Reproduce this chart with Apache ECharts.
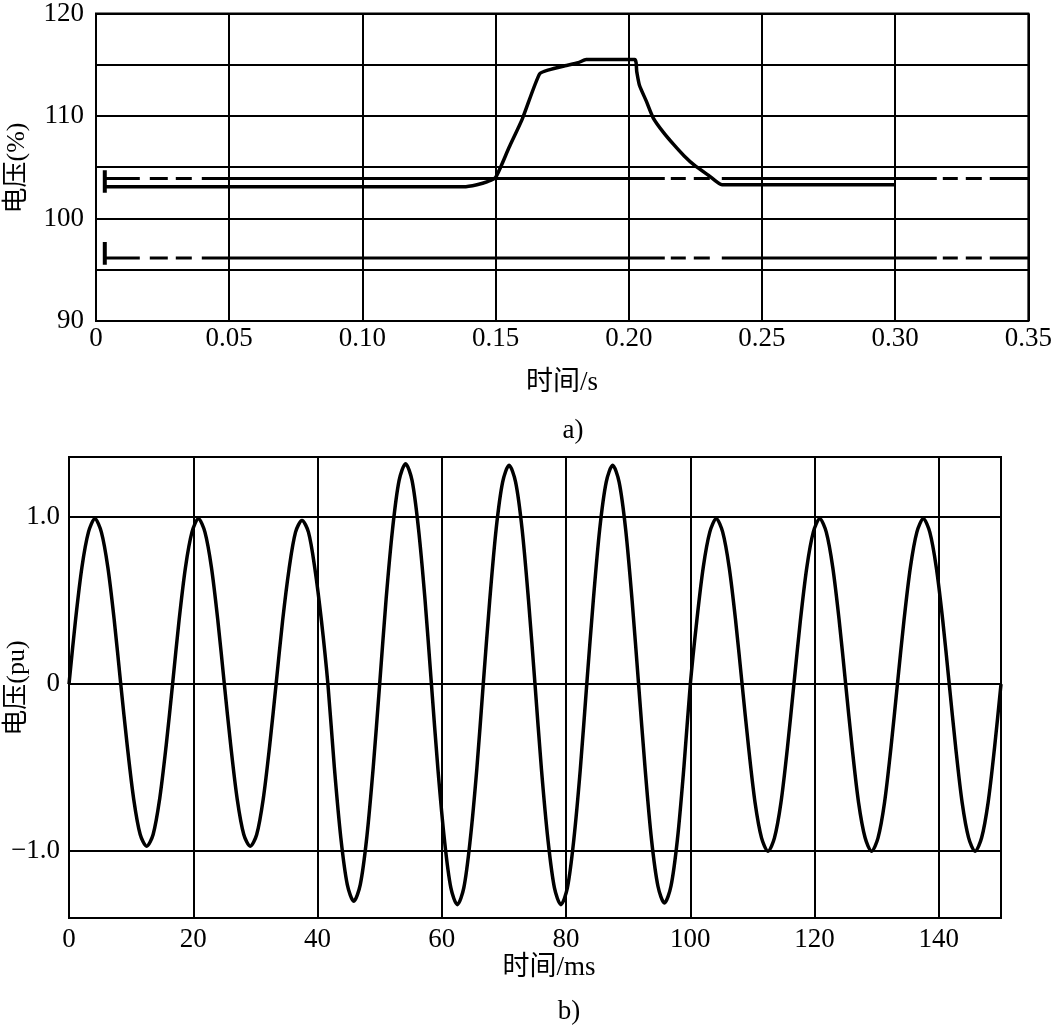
<!DOCTYPE html>
<html>
<head>
<meta charset="utf-8">
<script src="https://cdn.jsdelivr.net/npm/echarts@6/dist/echarts.min.js"></script>
<style>
html,body{margin:0;padding:0;background:#fff;}
#chart{width:1055px;height:1027px;}
</style>
</head>
<body>
<div id="chart"></div>
<script>
// ---------- Chart a) : voltage (%) vs time (s) ----------
const respTime = [0.0033, 0.138, 0.143, 0.147, 0.150, 0.155, 0.160, 0.1665, 0.170, 0.176, 0.181, 0.184, 0.2022, 0.2030, 0.2040, 0.2065, 0.2092, 0.213, 0.2169, 0.2208, 0.2246, 0.230, 0.235, 0.30];
const respVolt = [103.1, 103.1, 103.3, 103.6, 104.0, 106.9, 109.7, 114.1, 114.5, 114.9, 115.2, 115.5, 115.5, 114.3, 113.0, 111.5, 109.8, 108.4, 107.2, 106.1, 105.2, 104.2, 103.3, 103.3];
const limitTime = [0.0033, 0.35];
const upperLimit = [103.9, 103.9];
const lowerLimit = [96.15, 96.15];
const upperMarkerVolt = [102.5, 104.7];
const lowerMarkerVolt = [95.5, 97.7];
const markerTime = [0.0033, 0.0033];
const aYTicks = [90, 100, 110, 120];

// ---------- Chart b) : voltage (pu) vs time (ms) ----------
const waveTime = [
  0, 1.04, 2.08, 3.13, 4.17, 5.21, 6.25, 7.29, 8.33, 9.38, 10.42, 11.46, 12.5, 13.54, 14.58, 15.63,
  16.67, 17.71, 18.75, 19.79, 20.83, 21.88, 22.92, 23.96, 25, 26.04, 27.08, 28.13, 29.17, 30.21, 31.25, 32.29,
  33.33, 34.38, 35.42, 36.46, 37.5, 38.54, 39.58, 40.63, 41.67, 42.71, 43.75, 44.79, 45.83, 46.88, 47.92, 48.96,
  50, 51.04, 52.08, 53.13, 54.17, 55.21, 56.25, 57.29, 58.33, 59.38, 60.42, 61.46, 62.5, 63.54, 64.58, 65.63,
  66.67, 67.71, 68.75, 69.79, 70.83, 71.88, 72.92, 73.96, 75, 76.04, 77.08, 78.13, 79.17, 80.21, 81.25, 82.29,
  83.33, 84.38, 85.42, 86.46, 87.5, 88.54, 89.58, 90.63, 91.67, 92.71, 93.75, 94.79, 95.83, 96.88, 97.92, 98.96,
  100, 101.04, 102.08, 103.13, 104.17, 105.21, 106.25, 107.29, 108.33, 109.38, 110.42, 111.46, 112.5, 113.54, 114.58, 115.63,
  116.67, 117.71, 118.75, 119.79, 120.83, 121.88, 122.92, 123.96, 125, 126.04, 127.08, 128.13, 129.17, 130.21, 131.25, 132.29,
  133.33, 134.38, 135.42, 136.46, 137.5, 138.54, 139.58, 140.63, 141.67, 142.71, 143.75, 144.79, 145.83, 146.88, 147.92, 148.96,
  150];
const waveVolt = [
  0, 0.38, 0.70, 0.91, 0.99, 0.91, 0.70, 0.38, 0, -0.37, -0.69, -0.90, -0.97, -0.90, -0.69, -0.37,
  0, 0.38, 0.70, 0.91, 0.99, 0.91, 0.70, 0.38, 0, -0.37, -0.69, -0.90, -0.97, -0.90, -0.69, -0.37,
  0, 0.38, 0.69, 0.91, 0.98, 0.91, 0.69, 0.38, 0, -0.50, -0.92, -1.20, -1.30, -1.20, -0.92, -0.50,
  0, 0.51, 0.93, 1.22, 1.32, 1.22, 0.93, 0.51, 0, -0.51, -0.93, -1.22, -1.32, -1.22, -0.93, -0.51,
  0, 0.50, 0.93, 1.21, 1.31, 1.21, 0.93, 0.50, 0, -0.51, -0.93, -1.22, -1.32, -1.22, -0.93, -0.51,
  0, 0.50, 0.93, 1.21, 1.31, 1.21, 0.93, 0.50, 0, -0.50, -0.93, -1.21, -1.31, -1.21, -0.93, -0.50,
  0, 0.38, 0.70, 0.91, 0.99, 0.91, 0.70, 0.38, 0, -0.38, -0.71, -0.92, -1.00, -0.92, -0.71, -0.38,
  0, 0.38, 0.70, 0.91, 0.99, 0.91, 0.70, 0.38, 0, -0.38, -0.71, -0.92, -1.00, -0.92, -0.71, -0.38,
  0, 0.38, 0.70, 0.91, 0.99, 0.91, 0.70, 0.38, 0, -0.38, -0.71, -0.92, -1.00, -0.92, -0.71, -0.38,
  0];
const bYGrid = [-1, 0, 1];

const zip = (xs, ys) => xs.map((x, i) => [x, ys[i]]);

const FONT = '"Liberation Serif","Noto Sans CJK SC",serif';
const limitDash = [35, 10, 18, 8, 16, 10, 463, 6, 15, 8, 16, 12, 215, 6, 15, 8, 16, 8, 80];

const chart = echarts.init(document.getElementById('chart'), null, {renderer: 'canvas'});

const gridLine = {show: true, lineStyle: {color: '#000', width: 2}};
const labelBase = {color: '#000', fontFamily: FONT, fontSize: 27};

const option = {
  backgroundColor: '#fff',
  animation: false,
  grid: [
    {left: 96, top: 8, width: 934, height: 313, show: true, borderColor: '#000', borderWidth: 2, backgroundColor: 'transparent'},
    {left: 69, top: 457, width: 932, height: 461, show: true, borderColor: '#000', borderWidth: 2, backgroundColor: 'transparent'}
  ],
  xAxis: [
    {
      type: 'value', gridIndex: 0, min: 0, max: 0.35, interval: 0.05,
      axisLine: {show: false}, axisTick: {show: false},
      splitLine: gridLine,
      axisLabel: Object.assign({}, labelBase, {margin: 4,
        formatter: v => (Math.abs(v) < 1e-9 ? '0' : v.toFixed(2))})
    },
    {
      type: 'value', gridIndex: 1, min: 0, max: 150, interval: 20,
      axisLine: {show: false}, axisTick: {show: false},
      splitLine: gridLine,
      axisLabel: Object.assign({}, labelBase, {margin: 8, showMaxLabel: false,
        formatter: v => (v > 149 ? '' : String(v))})
    }
  ],
  yAxis: [
    {
      type: 'value', gridIndex: 0, min: 90, max: 120, interval: 5,
      axisLine: {show: false}, axisTick: {show: false},
      splitLine: gridLine,
      axisLabel: Object.assign({}, labelBase, {margin: 12,
        formatter: v => (aYTicks.indexOf(Math.round(v)) >= 0 && Math.abs(v - Math.round(v)) < 1e-6 ? String(Math.round(v)) : '')})
    },
    {
      type: 'value', gridIndex: 1, min: -1.4, max: 1.36, interval: 0.2,
      axisLine: {show: false}, axisTick: {show: false},
      splitLine: {show: false},
      axisLabel: Object.assign({}, labelBase, {margin: 9, showMaxLabel: false, showMinLabel: false,
        formatter: v => {
          if (Math.abs(v - 1) < 1e-6) return '1.0';
          if (Math.abs(v) < 1e-6) return '0';
          if (Math.abs(v + 1) < 1e-6) return '\u22121.0';
          return '';
        }})
    }
  ],
  series: [
    {
      type: 'line', xAxisIndex: 0, yAxisIndex: 0, symbol: 'none', silent: true,
      data: zip(limitTime, upperLimit),
      lineStyle: {color: '#000', width: 3, type: limitDash, cap: 'butt'}
    },
    {
      type: 'line', xAxisIndex: 0, yAxisIndex: 0, symbol: 'none', silent: true,
      data: zip(limitTime, lowerLimit),
      lineStyle: {color: '#000', width: 3, type: limitDash, cap: 'butt'}
    },
    {
      type: 'line', xAxisIndex: 0, yAxisIndex: 0, symbol: 'none', silent: true,
      data: zip(markerTime, upperMarkerVolt),
      lineStyle: {color: '#000', width: 4, cap: 'butt'}
    },
    {
      type: 'line', xAxisIndex: 0, yAxisIndex: 0, symbol: 'none', silent: true,
      data: zip(markerTime, lowerMarkerVolt),
      lineStyle: {color: '#000', width: 4, cap: 'butt'}
    },
    {
      type: 'line', xAxisIndex: 0, yAxisIndex: 0, symbol: 'none', silent: true,
      data: zip(respTime, respVolt), smooth: 0.2,
      lineStyle: {color: '#000', width: 3.5, join: 'round'}
    },
    {
      type: 'line', xAxisIndex: 1, yAxisIndex: 1, symbol: 'none', silent: true,
      data: zip(waveTime, waveVolt), smooth: 0.3,
      lineStyle: {color: '#000', width: 3.5, join: 'round'},
      markLine: {
        silent: true, symbol: ['none', 'none'], label: {show: false}, animation: false,
        lineStyle: {color: '#000', width: 2, type: 'solid'},
        data: bYGrid.map(v => ({yAxis: v}))
      }
    }
  ],
  graphic: [
    {type: 'text', x: 17, y: 168, rotation: Math.PI / 2, style: {text: '电压(%)', font: '26px ' + FONT, fill: '#000', textAlign: 'center', textVerticalAlign: 'middle'}},
    {type: 'text', x: 562, y: 383, style: {text: '时间/s', font: '27px ' + FONT, fill: '#000', textAlign: 'center', textVerticalAlign: 'middle'}},
    {type: 'text', x: 573, y: 431, style: {text: 'a)', font: '27px ' + FONT, fill: '#000', textAlign: 'center', textVerticalAlign: 'middle'}},
    {type: 'text', x: 17, y: 688, rotation: Math.PI / 2, style: {text: '电压(pu)', font: '26px ' + FONT, fill: '#000', textAlign: 'center', textVerticalAlign: 'middle'}},
    {type: 'text', x: 549, y: 968, style: {text: '时间/ms', font: '27px ' + FONT, fill: '#000', textAlign: 'center', textVerticalAlign: 'middle'}},
    {type: 'text', x: 569, y: 1012, style: {text: 'b)', font: '27px ' + FONT, fill: '#000', textAlign: 'center', textVerticalAlign: 'middle'}}
  ]
};
chart.setOption(option);
</script>
</body>
</html>
